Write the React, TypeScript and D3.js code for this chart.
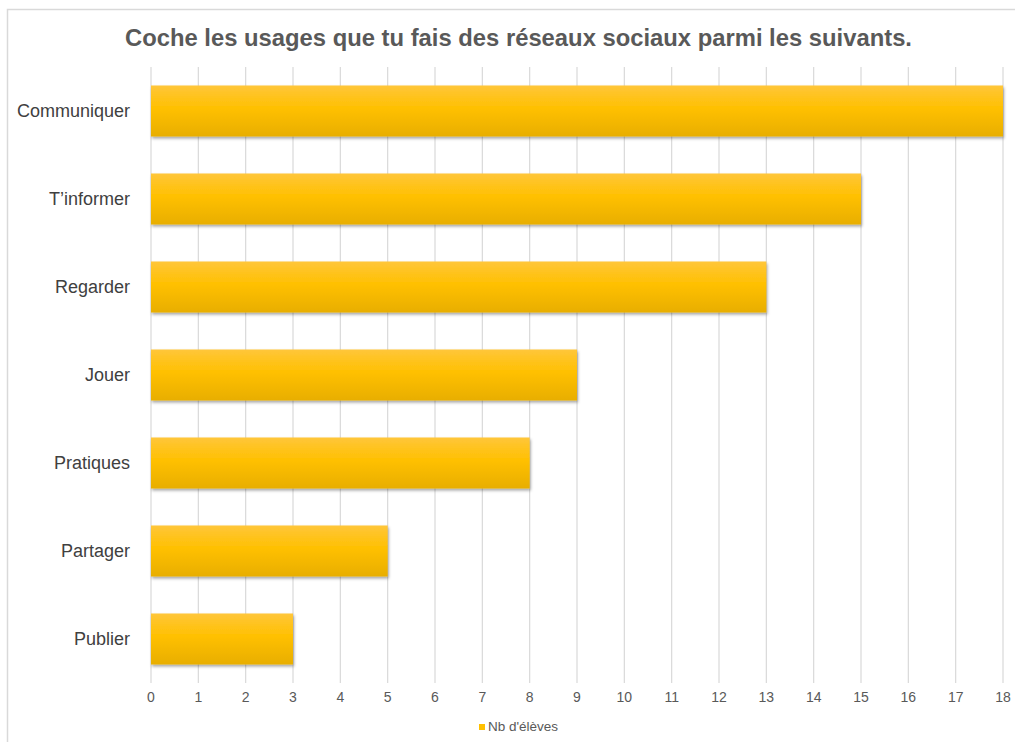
import React from "react";
import * as d3 from "d3";

const categories = ["Communiquer", "T\u2019informer", "Regarder", "Jouer", "Pratiques", "Partager", "Publier"];
const values = [18, 15, 13, 9, 8, 5, 3];
const xTicks = d3.range(0, 19);
const title = "Coche les usages que tu fais des réseaux sociaux parmi les suivants.";
const seriesName = "Nb d'élèves";

export default function App() {
  const W = 1015, H = 742;
  const left = 151, right = 1003, top = 67, bottom = 683;
  const x = d3.scaleLinear().domain([0, 18]).range([left, right]);
  const y = d3.scaleBand().domain(categories).range([top, bottom]).paddingInner(0.42).paddingOuter(0.21);
  const font = "'Liberation Sans', Arial, Helvetica, sans-serif";
  return (
    <svg width={W} height={H} style={{ position: "absolute", left: 0, top: 0 }} fontFamily={font}>
      <defs>
        <linearGradient id="barGrad" x1="0" y1="0" x2="0" y2="1">
          <stop offset="0" stopColor="#FFC63A" />
          <stop offset="0.45" stopColor="#FFC000" />
          <stop offset="1" stopColor="#E8AE00" />
        </linearGradient>
        <filter id="shadow" x="-5%" y="-20%" width="110%" height="150%">
          <feDropShadow dx="1" dy="2" stdDeviation="1.5" floodColor="#000" floodOpacity="0.35" />
        </filter>
      </defs>
      <rect x={0} y={0} width={W} height={H} fill="#fff" />
      <rect x={7.5} y={9.5} width={W + 10} height={H + 10} fill="#fff" stroke="#d9d9d9" strokeWidth={1.5} />
      <text x={518.5} y={46} textAnchor="middle" fontSize={23.8} fontWeight="bold" fill="#595959">{title}</text>
      {xTicks.map(t => (
        <g key={t}>
          <line x1={x(t)} x2={x(t)} y1={top} y2={bottom} stroke="#d9d9d9" strokeWidth={1.2} />
          <text x={x(t)} y={702} textAnchor="middle" fontSize={14} fill="#595959">{t}</text>
        </g>
      ))}
      {categories.map((c, i) => (
        <g key={c}>
          <rect x={x(0)} y={y(c)!} width={x(values[i]) - x(0)} height={y.bandwidth()} fill="url(#barGrad)" filter="url(#shadow)" />
          <text x={130} y={y(c)! + y.bandwidth() / 2} dy="0.35em" textAnchor="end" fontSize={18} fill="#404040">{c}</text>
        </g>
      ))}
      <rect x={479} y={724} width={6} height={6} fill="#FFC000" />
      <text x={488} y={731} fontSize={13.5} fill="#595959">{seriesName}</text>
    </svg>
  );
}
